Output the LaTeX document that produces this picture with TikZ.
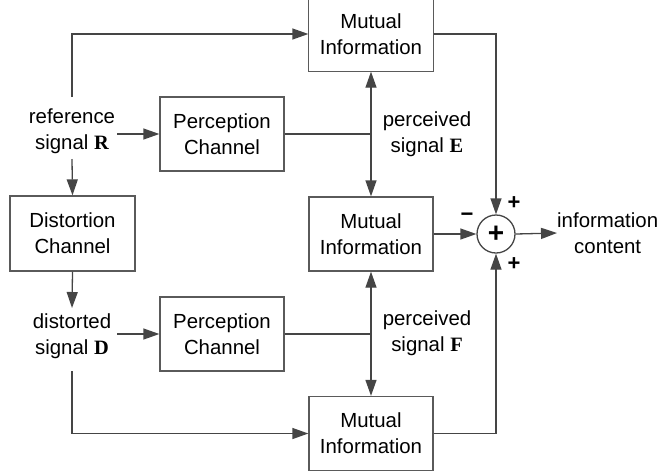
\documentclass[tikz,border=0pt]{standalone}
\usepackage{fontspec}
\setmainfont{Liberation Sans}
\newfontfamily\serifbold{Liberation Serif}
\usetikzlibrary{arrows.meta}
\definecolor{linegray}{HTML}{454545}
\definecolor{boxgray}{HTML}{5A5A5A}
\tikzset{
  blockbox/.style={draw=boxgray, line width=1.3pt, minimum width=124pt, minimum height=74pt, inner sep=0pt, align=center, font=\fontsize{20.4}{26}\selectfont},
  openbox/.style={blockbox, draw=none},
  boxline/.style={draw=boxgray, line width=1.3pt},
  labeltext/.style={inner sep=0pt, align=center, font=\fontsize{20.4}{26}\selectfont},
  sidetext/.style={labeltext, minimum width=90pt},
  sumnode/.style={draw=linegray, line width=1.3pt, circle, minimum size=38pt, inner sep=0pt, font=\fontsize{28}{28}\selectfont\bfseries},
  signtext/.style={inner sep=0pt, font=\fontsize{22}{22}\selectfont\bfseries},
  conn/.style={draw=linegray, line width=1.3pt},
  arr/.style={conn, -{Triangle[length=16pt,width=11pt]}},
  darr/.style={conn, {Triangle[length=16pt,width=11pt]}-{Triangle[length=16pt,width=11pt]}}
}
\newcommand{\vsym}[1]{{\serifbold\bfseries #1}}
\begin{document}
\begin{tikzpicture}[x=1pt,y=-1pt]
\useasboundingbox (0,0) rectangle (660,475);
% blocks
\node[openbox] (mi1) at (371,34) {Mutual\\Information};
\draw[boxline] ([yshift=10pt]mi1.north west) -- (mi1.south west) -- (mi1.south east) -- ([yshift=10pt]mi1.north east);
\node[blockbox] (mi2) at (371,234) {Mutual\\Information};
\node[blockbox] (mi3) at (371,433.5) {Mutual\\Information};
\node[blockbox] (pc1) at (222,134) {Perception\\Channel};
\node[blockbox] (pc2) at (222,334) {Perception\\Channel};
\node[blockbox, minimum width=125pt, minimum height=75pt] (dc) at (72.5,233.5) {Distortion\\Channel};
\node[sumnode] (sum) at (496,234) {+};
% texts
\node[sidetext] (ref) at (72,131.5) {reference\\signal \vsym{R}};
\node[sidetext] (dist) at (72,336) {distorted\\signal \vsym{D}};
\node[labeltext] (pe) at (427,134) {perceived\\signal \vsym{E}};
\node[labeltext] (pf) at (427,333.5) {perceived\\signal \vsym{F}};
\node[labeltext, anchor=west] (info) at (557,233) {information\\content};
\node[signtext] (sgnm) at (467,217) {−};
\node[signtext] (sgnt) at (514,203) {+};
\node[signtext] (sgnb) at (514,264) {+};
% free ends
\coordinate (refTop) at (72,97);
\coordinate (refBot) at (72,159);
\coordinate (distTop) at (72,308);
\coordinate (distBot) at (72,371);
% connectors
\draw[arr] (refTop) |- (mi1.west);
\draw[arr] (ref.east |- pc1.west) -- (pc1.west);
\draw[arr] (refBot) -- (dc.north);
\draw[conn] (pc1.east) -- (pc1.east -| mi1.south);
\draw[darr] (mi1.south) -- (mi2.north);
\draw[arr] (dc.south) -- (distTop);
\draw[arr] (dist.east |- pc2.west) -- (pc2.west);
\draw[conn] (pc2.east) -- (pc2.east -| mi2.south);
\draw[darr] (mi2.south) -- (mi3.north);
\draw[arr] (distBot) |- (mi3.west);
\draw[arr] (mi1.east) -| (sum.north);
\draw[arr] (mi3.east) -| (sum.south);
\draw[arr] (mi2.east) -- (sum.west);
\draw[arr] (sum.east) -- (info.west);
\end{tikzpicture}
\end{document}
